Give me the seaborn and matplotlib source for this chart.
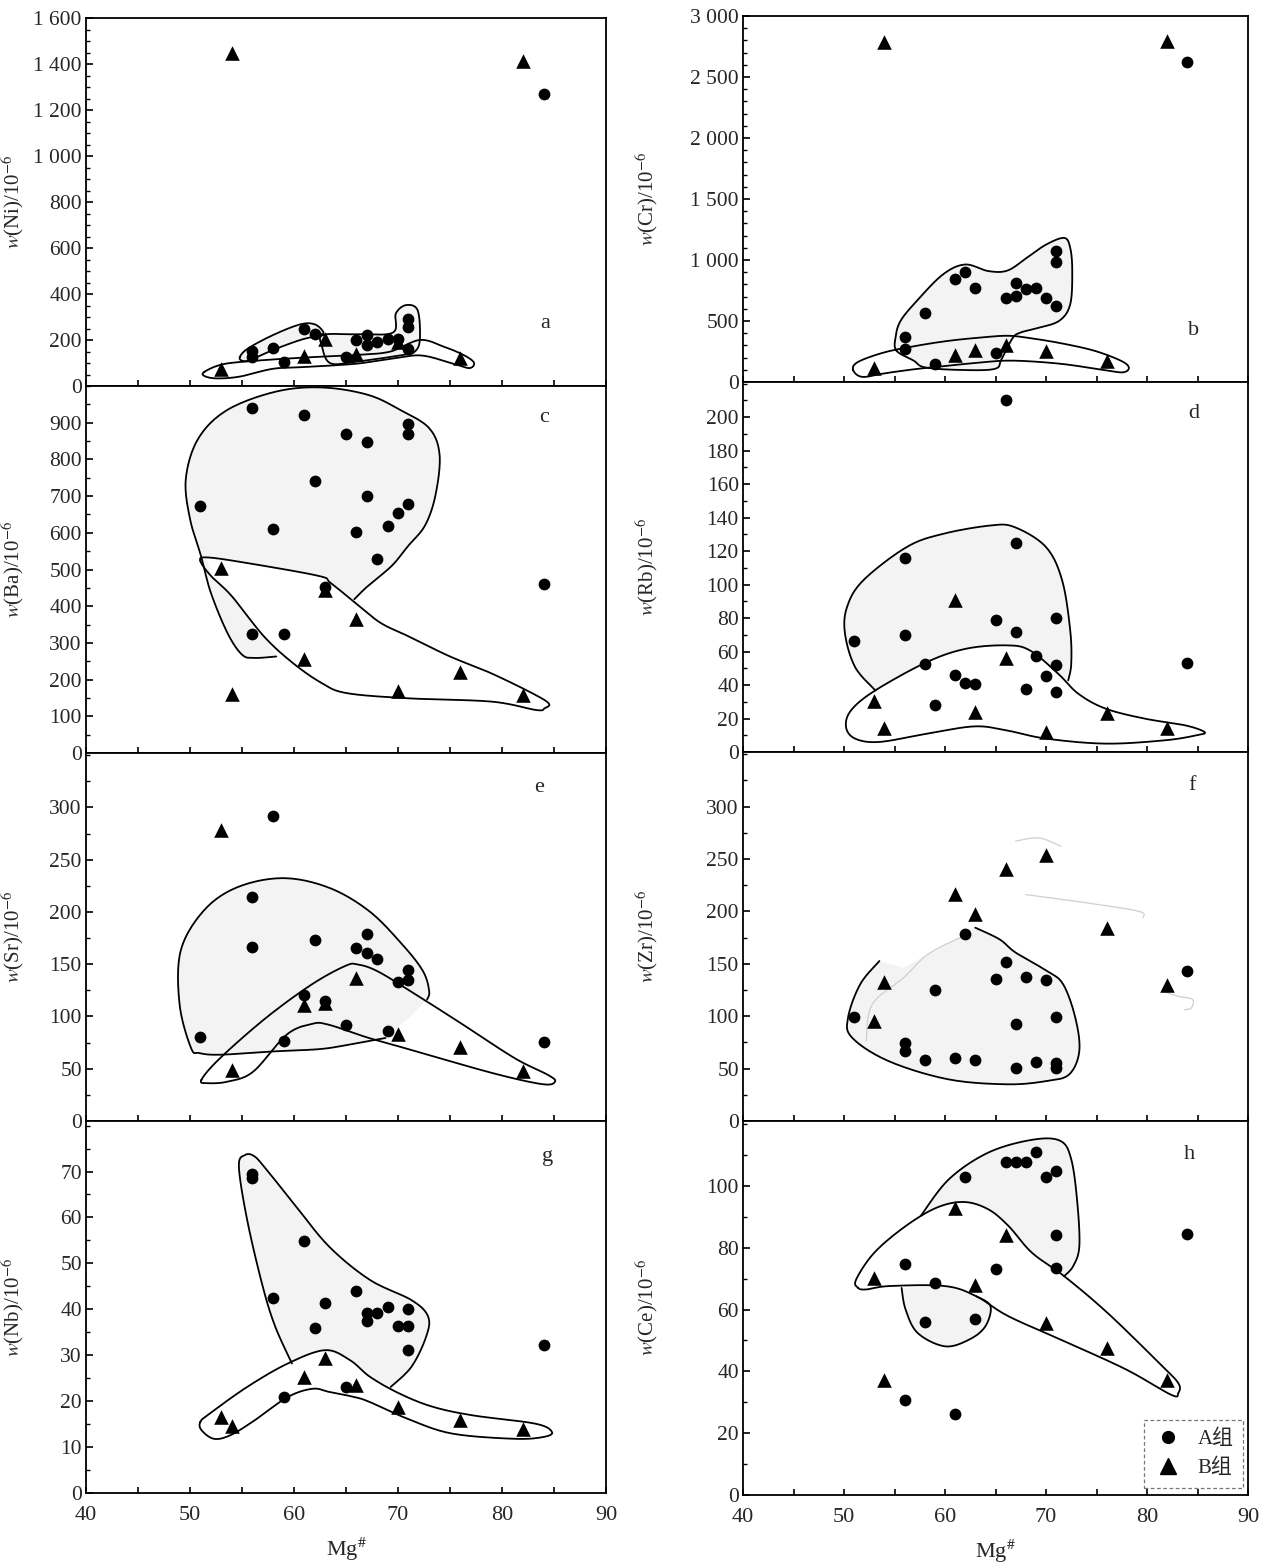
import numpy as np
import pandas as pd
import matplotlib
matplotlib.use("Agg")
import matplotlib.pyplot as plt
from matplotlib.lines import Line2D
from matplotlib.ticker import MultipleLocator, AutoMinorLocator, FuncFormatter
import seaborn as sns

# ---------------- data ----------------
# Panel a: Ni
ni_A_x = [56, 56, 58, 59, 61, 62, 65, 66, 67, 67, 68, 69, 70, 71, 71, 71, 84]
ni_A_y = [152, 127, 166, 105, 250, 228, 127, 199, 221, 178, 192, 204, 206, 163, 293, 257, 1269]
ni_B_x = [53, 54, 61, 63, 66, 70, 76, 82]
ni_B_y = [72, 1448, 131, 206, 141, 192, 120, 1412]
# Panel b: Cr
cr_A_x = [56, 56, 58, 59, 61, 62, 63, 65, 66, 67, 67, 68, 69, 70, 71, 71, 71, 84]
cr_A_y = [368, 273, 567, 150, 846, 900, 772, 237, 687, 810, 701, 764, 772, 690, 1072, 982, 619, 2619]
cr_B_x = [53, 54, 61, 63, 66, 70, 76, 82]
cr_B_y = [115, 2790, 224, 265, 305, 251, 169, 2796]
# Panel c: Ba
ba_A_x = [51, 56, 56, 58, 59, 61, 62, 63, 65, 66, 67, 67, 68, 69, 70, 71, 71, 71, 84]
ba_A_y = [673, 941, 325, 611, 325, 921, 740, 451, 868, 601, 848, 700, 528, 618, 653, 896, 868, 678, 461]
ba_B_x = [53, 54, 61, 63, 66, 70, 76, 82]
ba_B_y = [503, 160, 256, 444, 366, 170, 221, 157]
# Panel d: Rb
rb_A_x = [51, 56, 56, 58, 59, 61, 62, 63, 65, 66, 67, 67, 68, 69, 70, 71, 71, 71, 84]
rb_A_y = [66.3, 116, 69.7, 52.7, 28.3, 45.8, 41.4, 40.4, 79.0, 210, 125, 71.6, 37.8, 57.3, 45.2, 80.2, 51.7, 35.8, 53.1]
rb_B_x = [53, 54, 61, 63, 66, 70, 76, 82]
rb_B_y = [30.4, 14.3, 90.5, 23.9, 56.3, 11.9, 23.3, 14.3]
# Panel e: Sr
sr_A_x = [51, 56, 56, 58, 59, 61, 62, 63, 65, 66, 67, 67, 68, 69, 70, 71, 71, 84]
sr_A_y = [80.3, 214.7, 166.7, 291.4, 76.1, 120.3, 173.4, 114.5, 92.1, 165.1, 179.1, 160.3, 154.5, 85.7, 132.8, 144.3, 134.7, 75.5]
sr_B_x = [53, 54, 61, 63, 66, 70, 76, 82]
sr_B_y = [278.6, 48.9, 110.7, 112.9, 136.9, 83.2, 70.4, 48.3]
# Panel f: Zr
zr_A_x = [51, 56, 56, 58, 59, 61, 62, 63, 65, 66, 67, 67, 68, 69, 70, 71, 71, 71, 84]
zr_A_y = [99.6, 74.1, 66.8, 58.2, 125, 59.8, 178.8, 58.2, 135.8, 151.7, 92.2, 50.9, 137.4, 56.6, 134.2, 99.6, 55.0, 50.9, 143]
zr_B_x = [53, 54, 61, 63, 66, 70, 76, 82]
zr_B_y = [95.4, 133, 217, 197, 240, 254, 184.5, 129.5]
# Panel g: Nb
nb_A_x = [56, 56, 58, 59, 61, 62, 63, 65, 66, 67, 67, 68, 69, 70, 71, 71, 71, 84]
nb_A_y = [69.4, 68.6, 42.4, 20.8, 54.9, 36.0, 41.4, 23.1, 44.0, 39.1, 37.5, 39.1, 40.4, 36.4, 40.0, 36.4, 31.1, 32.2]
nb_B_x = [53, 54, 61, 63, 66, 70, 76, 82]
nb_B_y = [16.6, 14.5, 25.3, 29.3, 23.5, 18.8, 15.8, 14.0]
# Panel h: Ce
ce_A_x = [56, 56, 58, 59, 61, 62, 63, 65, 66, 67, 68, 69, 70, 71, 71, 71, 84]
ce_A_y = [74.6, 30.6, 55.9, 68.6, 26.3, 102.9, 57.1, 73.0, 107.8, 107.8, 107.8, 111.1, 102.9, 104.9, 84.0, 73.5, 84.3]
ce_B_x = [53, 54, 61, 63, 66, 70, 76, 82]
ce_B_y = [70.3, 37.3, 93.0, 67.9, 84.0, 55.5, 47.6, 37.3]

# Field outlines (hand-drawn envelopes, data coordinates)
a_fieldA1 = [(54.8, 127), (55.6, 164), (58.0, 222), (60.6, 268), (62.0, 268), (62.8, 236), (62.5, 222),
             (60.6, 200), (58.0, 157), (55.8, 113), (55.0, 110)]
a_fieldA2 = [(62.8, 222), (66.0, 225), (69.5, 232), (69.8, 316), (70.8, 352), (71.9, 328), (72.1, 200),
             (71.6, 149), (70.5, 135), (66.0, 106), (63.5, 99), (62.7, 171)]
a_fieldB = [(51.4, 62), (53.2, 95), (56.4, 110), (59.6, 120), (62.8, 128), (66.0, 135), (69.2, 149), (72.1, 200),
            (74.4, 171), (76.3, 135), (77.3, 102), (76.9, 78), (75.6, 93), (72.4, 132), (69.9, 122), (66.0, 97),
            (61.2, 83), (58.0, 75), (54.8, 41), (52.6, 33), (51.4, 43)]
b_fieldA = [(55.2, 256), (55.1, 365), (55.6, 501), (57.2, 664), (59.8, 882), (62.0, 963), (64.3, 909), (66.2, 914),
            (68.1, 1018), (70.0, 1126), (71.8, 1181), (72.4, 1099), (72.6, 909), (72.4, 637), (71.3, 501),
            (69.1, 441), (67.5, 406), (66.7, 360), (65.6, 188), (64.9, 107), (61.4, 99), (58.0, 120), (56.9, 175)]
b_fieldB = [(50.9, 100), (51.4, 165), (54.0, 243), (57.2, 297), (60.4, 338), (63.6, 365), (66.2, 379), (68.4, 360),
            (71.6, 316), (74.8, 256), (77.4, 175), (78.2, 120), (77.7, 80), (76.1, 93), (71.6, 148), (66.8, 175),
            (63.6, 161), (60.4, 134), (57.2, 107), (54.0, 71), (51.8, 42)]
c_fieldA = [(58.3, 263), (56.2, 259), (55.0, 268), (53.6, 327), (52.0, 437), (51.1, 533), (50.0, 638), (49.6, 748),
            (50.8, 857), (53.6, 935), (58.3, 985), (62.7, 996), (67.1, 976), (70.2, 935), (73.0, 885), (74.0, 812),
            (73.6, 702), (72.6, 620), (71.0, 565), (69.4, 510), (67.1, 455), (65.8, 419)]
c_shadeA = [(63.5, 464), (62.3, 483), (55.2, 519), (51.6, 533), (52.0, 483), (54.0, 428), (57.1, 318)]
c_fieldB = [(51.0, 523), (51.6, 533), (55.2, 519), (62.3, 483), (63.5, 464), (65.9, 409), (68.3, 355), (71.0, 318),
            (75.0, 263), (78.9, 218), (82.9, 163), (84.5, 135), (84.1, 122), (83.3, 117), (79.0, 140), (71.0, 149),
            (65.1, 163), (62.7, 190), (59.9, 245), (57.1, 318), (54.0, 428), (52.0, 483)]
d_fieldA = [(53.1, 36.8), (51.1, 50.7), (50.1, 70.6), (50.3, 86.6), (51.9, 102.5), (56.2, 122.4), (59.8, 130.3),
            (64.5, 135.3), (66.9, 134.3), (70.0, 122.4), (71.6, 102.5), (72.4, 72.6), (72.5, 52.7), (72.2, 42.8)]
d_shadeA = [(71.2, 46.8), (68.4, 60.7), (66.1, 63.7), (62.1, 61.7), (58.2, 53.7)]
d_fieldB = [(53.1, 36.8), (58.2, 53.7), (62.1, 61.7), (66.1, 63.7), (68.4, 60.7), (71.2, 46.8), (73.2, 34.8),
            (75.9, 25.9), (79.8, 19.9), (83.8, 15.9), (85.7, 11.9), (84.9, 10.0), (81.8, 7.0), (75.9, 5.0),
            (70.0, 8.0), (66.1, 12.9), (62.9, 15.3), (58.2, 10.9), (53.5, 6.0), (51.1, 8.0), (50.2, 14.9), (50.7, 24.9)]
e_fieldA = [(68.8, 79.4), (65.3, 73.0), (62.5, 68.8), (58.1, 66.6), (52.9, 63.4), (50.9, 65.0), (50.1, 69.8),
            (49.0, 111.4), (49.1, 162.6), (51.3, 201.0), (54.5, 223.4), (58.9, 232.3), (63.3, 223.4), (67.2, 201.0),
            (70.4, 169.0), (72.4, 143.4), (73.0, 124.2), (72.8, 116.2)]
e_shadeA = [(71.2, 100.0)]
e_fieldB = [(51.1, 39.4), (52.9, 60.2), (57.3, 98.6), (61.7, 130.6), (64.9, 148.2), (66.1, 149.8), (68.0, 143.4),
            (71.2, 124.2), (76.0, 93.8), (81.2, 60.2), (84.4, 44.2), (85.1, 37.8), (83.9, 35.2), (79.1, 45.8),
            (71.2, 68.2), (67.2, 79.4), (63.3, 92.2), (61.7, 92.8), (59.3, 82.6), (56.1, 47.4), (53.7, 37.8), (51.7, 36.2)]
f_fieldA = [(53.5, 152.6), (51.6, 130.4), (50.4, 98.6), (50.8, 79.5), (54.4, 57.2), (60.3, 39.8), (66.2, 35.0),
            (70.1, 38.2), (72.3, 44.5), (73.3, 66.8), (72.9, 98.6), (71.7, 130.4), (70.1, 143.1), (67.0, 160.6),
            (65.4, 173.3), (63.0, 184.4)]
f_shadeA = [(61.5, 175), (58.3, 159), (55.9, 146)]
f_faint1 = [(52.2, 76.3), (52.8, 111.3), (55.9, 136.7), (58.3, 159), (61.5, 175)]
f_faint2 = [(67.0, 267), (69.3, 270), (71.5, 262)]
f_faint3 = [(68.0, 216), (74.1, 208), (79.2, 200), (79.6, 194)]
f_faint4 = [(81.5, 124), (83.1, 119), (84.5, 116), (84.4, 108), (83.7, 106)]
g_fieldA = [(59.8, 28.2), (58.2, 36.2), (57.0, 44.9), (55.5, 59.4), (54.7, 71.1), (55.3, 73.6), (56.2, 73.3),
            (57.4, 70.3), (60.2, 62.4), (63.4, 53.6), (67.3, 46.4), (71.3, 42.0), (72.9, 38.4), (72.7, 34.0),
            (71.3, 27.5), (69.3, 23.1)]
g_shadeA = [(67.3, 25.3), (65.4, 28.9), (63.0, 31.1), (61.2, 30.0)]
g_fieldB = [(51.0, 15.5), (51.9, 17.3), (55.5, 23.1), (59.4, 28.2), (63.0, 31.1), (65.4, 28.9), (67.3, 25.3),
            (70.1, 21.7), (73.3, 18.8), (77.2, 16.9), (83.2, 15.1), (84.8, 13.3), (84.0, 12.2), (81.2, 11.8),
            (75.3, 12.9), (71.3, 15.8), (67.3, 19.8), (65.8, 20.9), (63.4, 22.0), (61.8, 22.7), (59.4, 20.9),
            (56.2, 15.8), (53.9, 12.6), (52.3, 11.8), (51.1, 13.7)]
h_fieldA1 = [(57.6, 90.3), (60.4, 102.2), (64.3, 110.8), (68.6, 114.9), (71.4, 114.6), (72.5, 108.6), (73.1, 94.6),
             (73.3, 80.5), (72.7, 74.1), (71.8, 70.8)]
h_shadeA1 = [(68.6, 78.4), (66.3, 87.0), (64.3, 92.4), (61.9, 94.8), (59.2, 93.0)]
h_fieldA2 = [(63.1, 64.3), (64.5, 61.1), (64.0, 54.6), (62.4, 50.3), (60.0, 48.1), (57.3, 52.4), (56.1, 60.0), (55.7, 67.0)]
h_shadeA2 = [(60.0, 67.6)]
h_fieldB = [(51.4, 67.0), (51.2, 69.7), (53.0, 78.4), (56.1, 87.0), (59.2, 93.0), (61.9, 94.8), (64.3, 92.4),
            (66.3, 87.0), (68.6, 78.4), (71.8, 70.8), (76.1, 58.9), (81.2, 42.7), (83.1, 36.2), (83.1, 33.0),
            (82.4, 32.4), (78.0, 40.5), (72.2, 49.2), (66.3, 57.8), (63.1, 64.3), (60.0, 67.6), (54.5, 67.6), (52.2, 66.5)]

x_ticks = [40, 50, 60, 70, 80, 90]
group_labels = ["A组", "B组"]

# ---------------- style ----------------
sns.set_style("ticks")
plt.rcParams["font.family"] = ["Liberation Serif", "Noto Sans CJK SC"]
plt.rcParams["mathtext.fontset"] = "stix"
plt.rcParams["axes.linewidth"] = 1.3


def smooth(pts, closed=True, n=14):
    P = np.asarray(pts, dtype=float)
    if closed:
        Q = np.vstack([P[-1], P, P[0], P[1]])
    else:
        Q = np.vstack([P[0], P, P[-1]])
    t = np.linspace(0, 1, n, endpoint=False)[:, None]
    segs = []
    for i in range(1, len(Q) - 2):
        p0, p1, p2, p3 = Q[i - 1], Q[i], Q[i + 1], Q[i + 2]
        segs.append(0.5 * (2 * p1 + (-p0 + p2) * t + (2 * p0 - 5 * p1 + 4 * p2 - p3) * t ** 2
                           + (-p0 + 3 * p1 - 3 * p2 + p3) * t ** 3))
    segs.append(Q[-2][None, :])
    return np.vstack(segs)


def thousands(v, pos):
    v = int(round(v))
    if v >= 1000:
        return f"{v // 1000} {v % 1000:03d}"
    return str(v)


W, H = 1274, 1563
fig = plt.figure(figsize=(W / 100, H / 100), dpi=100)

left_cols = [(86, 606), (743, 1248)]
rows = [[(18, 386), (386, 753), (753, 1121), (1121, 1493)],
        [(16, 382), (382, 752), (752, 1121), (1121, 1495)]]

# field entries: (outline points, closed line?, is group A (shaded)?, extra fill closure points)
panels = [
    dict(col=0, row=0, el="Ni", ylim=1600, major=200, minor=4, A=(ni_A_x, ni_A_y), B=(ni_B_x, ni_B_y),
         fields=[(a_fieldA1, True, True, None), (a_fieldA2, True, True, None), (a_fieldB, True, False, None)],
         letter="a", lpos=(0.884, 0.17)),
    dict(col=1, row=0, el="Cr", ylim=3000, major=500, minor=5, A=(cr_A_x, cr_A_y), B=(cr_B_x, cr_B_y),
         fields=[(b_fieldA, True, True, None), (b_fieldB, True, False, None)], letter="b", lpos=(0.892, 0.14)),
    dict(col=0, row=1, el="Ba", ylim=1000, major=100, minor=2, A=(ba_A_x, ba_A_y), B=(ba_B_x, ba_B_y),
         fields=[(c_fieldA, False, True, c_shadeA), (c_fieldB, True, False, None)], letter="c", lpos=(0.88, 0.915)),
    dict(col=1, row=1, el="Rb", ylim=221, major=20, minor=2, A=(rb_A_x, rb_A_y), B=(rb_B_x, rb_B_y),
         fields=[(d_fieldA, False, True, d_shadeA), (d_fieldB, True, False, None)], letter="d", lpos=(0.892, 0.915)),
    dict(col=0, row=2, el="Sr", ylim=352, major=50, minor=2, A=(sr_A_x, sr_A_y), B=(sr_B_x, sr_B_y),
         fields=[(e_fieldA, False, True, e_shadeA), (e_fieldB, True, False, None)], letter="e", lpos=(0.872, 0.905)),
    dict(col=1, row=2, el="Zr", ylim=352, major=50, minor=2, A=(zr_A_x, zr_A_y), B=(zr_B_x, zr_B_y),
         fields=[(f_fieldA, False, True, f_shadeA)], faint=[f_faint1, f_faint2, f_faint3, f_faint4],
         letter="f", lpos=(0.89, 0.91)),
    dict(col=0, row=3, el="Nb", ylim=81, major=10, minor=2, A=(nb_A_x, nb_A_y), B=(nb_B_x, nb_B_y),
         fields=[(g_fieldA, False, True, g_shadeA), (g_fieldB, True, False, None)], letter="g", lpos=(0.888, 0.905)),
    dict(col=1, row=3, el="Ce", ylim=121, major=20, minor=2, A=(ce_A_x, ce_A_y), B=(ce_B_x, ce_B_y),
         fields=[(h_fieldA1, False, True, h_shadeA1), (h_fieldA2, False, True, h_shadeA2),
                 (h_fieldB, True, False, None)],
         letter="h", lpos=(0.884, 0.91)),
]

axes = {}
for p in panels:
    x0, x1 = left_cols[p["col"]]
    yt, yb = rows[p["col"]][p["row"]]
    ax = fig.add_axes([x0 / W, 1 - yb / H, (x1 - x0) / W, (yb - yt) / H])
    axes[(p["col"], p["row"])] = ax

    # fields
    for pts, closed, is_A, closure in p["fields"]:
        curve = smooth(pts, closed=closed)
        if is_A:
            poly = curve if closure is None else np.vstack([curve, np.asarray(closure, dtype=float)])
            ax.fill(poly[:, 0], poly[:, 1], color="#f3f3f3", zorder=0.5, lw=0)
        ax.plot(curve[:, 0], curve[:, 1], color="black", lw=1.3, zorder=1)
    for pts in p.get("faint", []):
        curve = smooth(pts, closed=False)
        ax.plot(curve[:, 0], curve[:, 1], color="#cfcfcf", lw=0.9, zorder=1)

    dfA = pd.DataFrame({"Mg": p["A"][0], "v": p["A"][1]})
    dfB = pd.DataFrame({"Mg": p["B"][0], "v": p["B"][1]})
    sns.scatterplot(data=dfA, x="Mg", y="v", marker="o", color="black", s=72, linewidth=0, ax=ax, zorder=3)
    sns.scatterplot(data=dfB, x="Mg", y="v", marker="^", color="black", s=110, linewidth=0, ax=ax, zorder=3)

    ax.set_xlim(40, 90)
    ax.set_ylim(0, p["ylim"])
    ax.xaxis.set_major_locator(MultipleLocator(10))
    ax.xaxis.set_minor_locator(MultipleLocator(5))
    ticks = np.arange(0, p["ylim"] + 0.5 * p["major"], p["major"])
    if p["row"] == 0:
        ticks = [v for v in ticks if v <= p["ylim"] + 1e-9]
    else:
        ticks = [v for v in ticks if v < p["ylim"] * 0.985]
    ax.set_yticks(ticks)
    ax.yaxis.set_minor_locator(AutoMinorLocator(p["minor"]))
    ax.yaxis.set_major_formatter(FuncFormatter(thousands))
    ax.tick_params(axis="both", which="both", direction="in", color="black")
    ax.tick_params(axis="x", which="both", length=4, width=1.2)
    ax.tick_params(axis="y", which="major", length=5, width=1.2, labelsize=15.5, pad=3)
    ax.tick_params(axis="y", which="minor", length=3, width=1.0)
    ax.tick_params(axis="x", labelsize=16, pad=9)
    for s in ax.spines.values():
        s.set_visible(True)
        s.set_color("black")
        s.set_linewidth(1.3)

    ax.set_ylabel(r"$w$(" + p["el"] + r")/10$^{-6}$", fontsize=15)
    ax.yaxis.set_label_coords(-0.115 if p["col"] == 0 else -0.165, 0.5)
    if p["row"] == 3:
        ax.set_xlabel(r"Mg$^{\#}$", fontsize=16, labelpad=8)
        ax.set_xticks(x_ticks)
    else:
        ax.set_xlabel("")
        ax.tick_params(axis="x", labelbottom=False)
    ax.text(p["lpos"][0], p["lpos"][1], p["letter"], transform=ax.transAxes, fontsize=16,
            ha="center", va="center")

# legend in panel h
axh = axes[(1, 3)]
handles = [Line2D([], [], marker="o", color="black", ls="none", markersize=8.5),
           Line2D([], [], marker="^", color="black", ls="none", markersize=12)]
leg = axh.legend(handles, group_labels, loc="lower right", bbox_to_anchor=(0.99, 0.02), frameon=True,
                 fancybox=False, fontsize=15, handletextpad=0.7, borderpad=0.45, labelspacing=0.45,
                 handlelength=1.4, borderaxespad=0.0)
leg.get_frame().set_edgecolor("#555555")
leg.get_frame().set_linestyle((0, (3, 2)))
leg.get_frame().set_linewidth(0.9)

fig.savefig("out.png", dpi=100, facecolor="white")
